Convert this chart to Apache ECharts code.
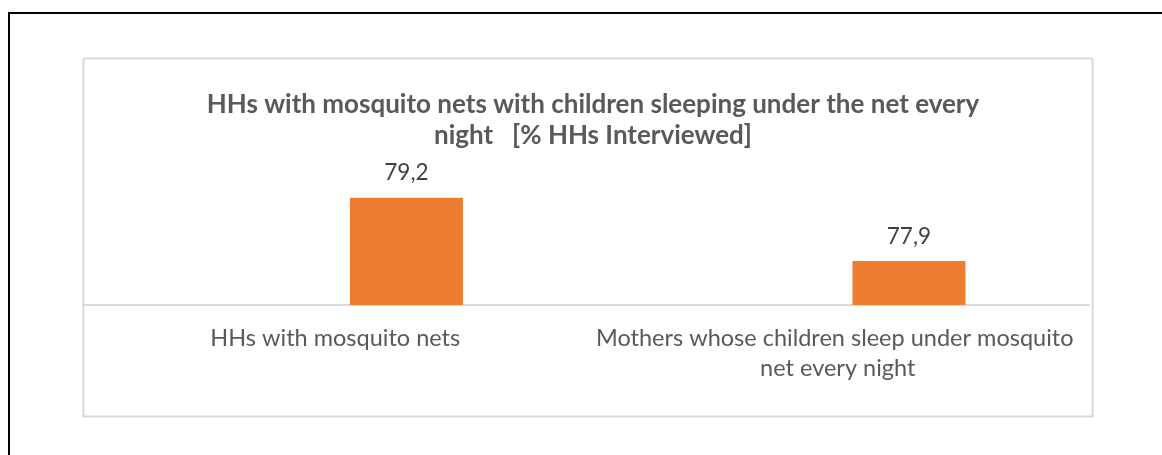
<!DOCTYPE html>
<html>
<head>
<meta charset="utf-8">
<script src="https://cdn.jsdelivr.net/npm/echarts@6/dist/echarts.min.js"></script>
<style>
  html, body { margin: 0; padding: 0; background: #ffffff; }
  #chart { width: 1162px; height: 455px; }
</style>
</head>
<body>
<div id="chart"></div>
<script>
// Chart text and values
const titleLines = [
  'HHs with mosquito nets with children sleeping under the net every',
  'night   [% HHs Interviewed]'
];
const categories = [
  'HHs with mosquito nets',
  'Mothers whose children sleep under mosquito net every night'
];
// first series of the cluster has no values; the bars belong to the second one
const emptySeries = [null, null];
const shareValues = [79.2, 77.9];

const valueMin = 77;
const valueMax = 79.5;

const FONT = 'Lato, "Open Sans", sans-serif';
const TEXT_GRAY = '#595959';
const ORANGE = '#ED7D31';
const LINE_GRAY = '#d9d9d9';

const chart = echarts.init(document.getElementById('chart'), null, { renderer: 'canvas' });

chart.setOption({
  backgroundColor: '#ffffff',
  animation: false,
  textStyle: { fontFamily: FONT },
  graphic: [
    {
      type: 'rect',
      shape: { x: 9, y: 13, width: 1200, height: 500 },
      style: { fill: null, stroke: '#000000', lineWidth: 2 },
      silent: true
    },
    {
      type: 'rect',
      shape: { x: 83.5, y: 58.5, width: 1009, height: 358 },
      style: { fill: null, stroke: LINE_GRAY, lineWidth: 2 },
      silent: true
    }
  ],
  title: {
    text: titleLines.join('\n'),
    left: 588,
    textAlign: 'center',
    top: 84,
    textStyle: {
      fontFamily: FONT,
      fontSize: 26,
      fontWeight: 'bold',
      color: TEXT_GRAY,
      lineHeight: 31
    }
  },
  grid: { left: 84, right: 73, top: 183, bottom: 150, containLabel: false },
  xAxis: {
    type: 'category',
    data: categories,
    axisLine: { show: true, lineStyle: { color: LINE_GRAY, width: 2 } },
    axisTick: { show: false },
    splitLine: { show: false },
    axisLabel: {
      interval: 0,
      margin: 18,
      fontFamily: FONT,
      fontSize: 23.5,
      color: TEXT_GRAY,
      lineHeight: 30,
      width: 500,
      overflow: 'break',
      align: 'center'
    }
  },
  yAxis: {
    type: 'value',
    min: valueMin,
    max: valueMax,
    show: false,
    splitLine: { show: false }
  },
  series: [
    {
      type: 'bar',
      name: 'blank',
      data: emptySeries,
      barWidth: 113,
      barGap: '26%',
      itemStyle: { color: 'transparent' }
    },
    {
      type: 'bar',
      name: 'share',
      data: shareValues,
      barWidth: 113,
      barGap: '26%',
      itemStyle: { color: ORANGE },
      label: {
        show: true,
        position: 'top',
        distance: 13,
        fontFamily: FONT,
        fontSize: 22.5,
        color: '#404040',
        formatter: p => p.value.toFixed(1).replace('.', ',')
      }
    }
  ]
});
</script>
</body>
</html>
